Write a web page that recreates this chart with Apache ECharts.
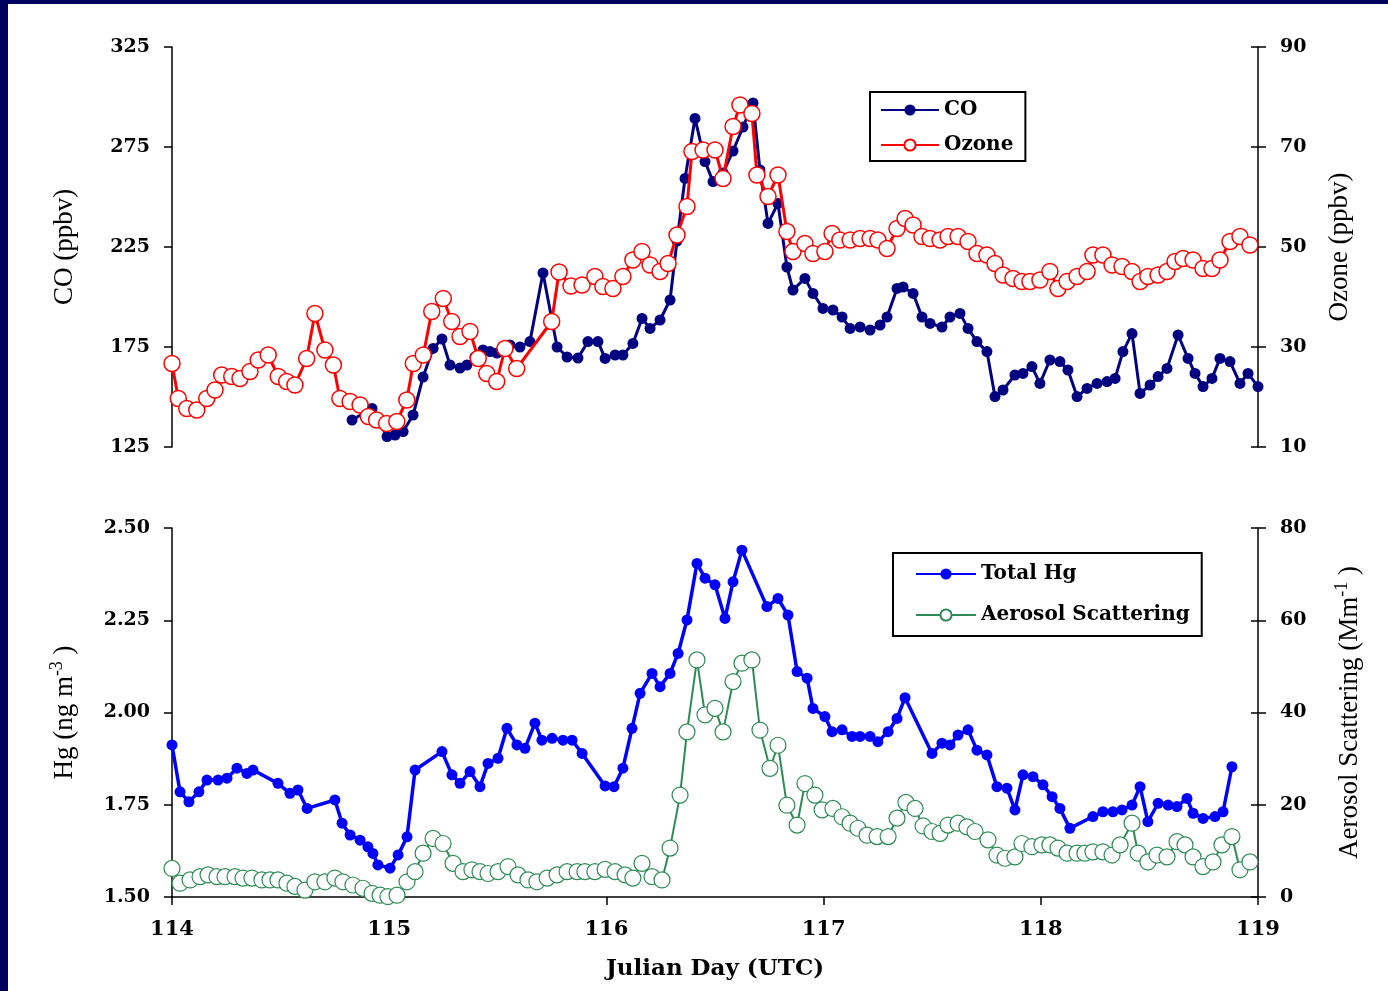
<!DOCTYPE html>
<html><head><meta charset="utf-8">
<script src="https://cdn.jsdelivr.net/npm/echarts@6/dist/echarts.min.js"></script>
<style>
html,body{margin:0;padding:0;background:#fff;}
#c{position:absolute;left:0;top:0;width:1388px;height:991px;}
#fl{position:absolute;left:0;top:0;width:8px;height:991px;background:#00005e;}
#ft{position:absolute;left:0;top:0;width:1388px;height:4px;background:#00005e;}
</style></head><body>
<div id="c"></div><div id="fl"></div><div id="ft"></div>
<script>
// ---- data (Julian day, value) ----
const coDay = [114.829,114.921,114.990,115.027,115.064,115.110,115.156,115.202,115.243,115.280,115.326,115.358,115.395,115.432,115.464,115.496,115.556,115.602,115.648,115.708,115.773,115.819,115.869,115.915,115.961,115.994,116.040,116.076,116.122,116.164,116.201,116.247,116.293,116.325,116.362,116.408,116.454,116.491,116.537,116.583,116.629,116.675,116.707,116.744,116.790,116.831,116.859,116.914,116.951,116.997,117.043,117.085,117.122,117.168,117.214,117.260,117.292,117.338,117.366,117.412,117.453,117.490,117.545,117.582,117.628,117.665,117.706,117.752,117.789,117.826,117.881,117.918,117.959,117.996,118.042,118.088,118.125,118.167,118.213,118.259,118.305,118.342,118.378,118.420,118.457,118.503,118.540,118.581,118.632,118.678,118.710,118.747,118.788,118.825,118.871,118.917,118.954,119.000];
const coVal = [138.5,144.3,130.2,131,132.7,141,160,174.3,179,166,164.5,166,170,173.5,172.7,172,176,175,177.7,212,175,170,169.5,177.7,177.7,169.3,171,171,176.8,189.3,184.3,188.5,198.5,228,259.3,289.3,267.7,257.7,262,273,285,297,263.5,236.8,246.8,215,203.5,209.3,201.8,194.3,193.5,190,184.3,185,183.5,186,190,204.3,205,201.8,190,186.8,185,190,191.8,184.3,177.7,172.7,150.2,153.5,161,161.8,165.2,156.8,168.5,167.7,163.5,150.2,154.3,156.8,157.7,159.3,172.7,181.7,151.8,156,160.2,164.3,181,169.3,161.8,155.2,159.3,169.3,167.7,156.8,161.8,155.2];

const o3Day = [114.000,114.029,114.068,114.114,114.160,114.198,114.229,114.275,114.313,114.359,114.397,114.443,114.489,114.528,114.566,114.620,114.658,114.704,114.743,114.773,114.820,114.866,114.904,114.942,114.988,115.035,115.081,115.111,115.157,115.196,115.249,115.288,115.326,115.372,115.410,115.449,115.495,115.533,115.587,115.748,115.782,115.837,115.888,115.947,115.984,116.030,116.076,116.122,116.164,116.201,116.247,116.284,116.325,116.371,116.394,116.445,116.500,116.537,116.583,116.615,116.670,116.693,116.744,116.790,116.831,116.859,116.914,116.951,117.006,117.039,117.075,117.122,117.168,117.214,117.250,117.292,117.338,117.375,117.412,117.453,117.490,117.536,117.573,117.619,117.665,117.706,117.752,117.789,117.826,117.872,117.913,117.950,117.996,118.042,118.079,118.121,118.167,118.213,118.240,118.286,118.328,118.374,118.420,118.457,118.493,118.540,118.581,118.618,118.655,118.701,118.747,118.788,118.825,118.871,118.917,118.963];
const o3Val = [26.7,19.7,17.7,17.4,19.7,21.4,24.4,24.1,23.7,25.1,27.4,28.4,24.1,23.1,22.4,27.7,36.7,29.4,26.4,19.7,19.1,18.4,16.1,15.4,14.7,15.1,19.4,26.7,28.4,37.1,39.7,35.1,32.1,33.1,27.7,24.7,23.1,29.7,25.7,35.1,45,42.2,42.4,44.1,42.1,41.7,44.1,47.4,49.1,46.4,45.1,46.7,52.4,58.1,69.1,69.4,69.4,63.7,74.1,78.4,76.7,64.4,60.1,64.4,53.1,49.1,50.7,48.7,49.1,52.7,51.4,51.4,51.7,51.7,51.4,49.7,53.7,55.7,54.4,52.1,51.7,51.4,52.1,52.1,51.1,48.7,48.4,46.7,44.4,43.7,43.1,43.1,43.4,45.1,41.7,43.1,44.1,45.1,48.4,48.4,46.4,46.1,45.1,43.1,44.1,44.4,45.1,47.1,47.7,47.4,45.7,45.7,47.4,51.1,52.1,50.4];

const hgDay = [114.000,114.037,114.078,114.124,114.161,114.212,114.253,114.299,114.345,114.373,114.488,114.543,114.580,114.622,114.750,114.783,114.820,114.866,114.902,114.925,114.948,115.004,115.041,115.082,115.119,115.243,115.289,115.326,115.372,115.418,115.455,115.501,115.542,115.588,115.625,115.671,115.703,115.750,115.800,115.842,115.888,115.994,116.035,116.076,116.118,116.155,116.210,116.247,116.293,116.330,116.371,116.417,116.454,116.500,116.546,116.583,116.624,116.739,116.790,116.836,116.878,116.924,116.951,117.006,117.039,117.085,117.131,117.168,117.214,117.250,117.297,117.338,117.375,117.499,117.545,117.582,117.619,117.665,117.706,117.752,117.798,117.844,117.881,117.918,117.964,118.010,118.052,118.088,118.134,118.240,118.286,118.332,118.374,118.420,118.457,118.493,118.540,118.586,118.627,118.673,118.701,118.747,118.802,118.839,118.880];
const hgVal = [1.912,1.785,1.758,1.785,1.817,1.817,1.822,1.849,1.835,1.844,1.808,1.781,1.790,1.740,1.763,1.700,1.668,1.654,1.636,1.618,1.587,1.578,1.614,1.663,1.844,1.894,1.831,1.808,1.840,1.799,1.862,1.876,1.957,1.912,1.903,1.971,1.925,1.930,1.925,1.925,1.889,1.801,1.799,1.849,1.957,2.052,2.106,2.070,2.106,2.160,2.251,2.404,2.364,2.346,2.255,2.354,2.440,2.287,2.309,2.264,2.111,2.093,2.011,1.989,1.948,1.953,1.935,1.935,1.935,1.921,1.948,1.984,2.040,1.889,1.917,1.912,1.939,1.953,1.898,1.885,1.799,1.795,1.736,1.831,1.826,1.804,1.772,1.740,1.686,1.718,1.731,1.731,1.736,1.749,1.799,1.704,1.754,1.749,1.745,1.767,1.727,1.713,1.718,1.731,1.853];

const aeDay = [114.000,114.037,114.083,114.129,114.166,114.207,114.244,114.290,114.327,114.368,114.414,114.451,114.488,114.529,114.566,114.612,114.658,114.704,114.750,114.787,114.833,114.879,114.921,114.958,114.994,115.036,115.082,115.119,115.156,115.202,115.248,115.294,115.340,115.381,115.418,115.455,115.501,115.547,115.593,115.639,115.680,115.727,115.773,115.819,115.865,115.901,115.947,115.994,116.040,116.086,116.122,116.164,116.210,116.256,116.293,116.339,116.371,116.417,116.454,116.500,116.537,116.583,116.624,116.670,116.707,116.753,116.790,116.831,116.878,116.914,116.960,116.993,117.043,117.085,117.122,117.158,117.200,117.246,117.297,117.338,117.379,117.421,117.458,117.499,117.536,117.573,117.619,117.660,117.697,117.757,117.798,117.835,117.881,117.913,117.959,118.005,118.042,118.079,118.121,118.167,118.203,118.240,118.286,118.328,118.365,118.420,118.448,118.493,118.535,118.581,118.627,118.664,118.701,118.747,118.793,118.834,118.880,118.917,118.963];
const aeVal = [6.2,3.0,3.7,4.4,4.8,4.4,4.4,4.4,4.1,4.1,3.7,3.7,3.7,3.0,2.3,1.5,3.3,3.3,4.1,3.3,2.6,1.9,0.8,0.4,0.1,0.4,3.3,5.5,9.5,12.7,11.6,7.3,5.5,5.9,5.5,5.1,5.5,6.6,4.8,3.7,3.3,4.1,4.8,5.5,5.5,5.5,5.5,6.0,5.5,4.8,4.1,7.3,4.4,3.7,10.6,22.1,35.8,51.4,39.5,40.9,35.8,46.7,50.7,51.4,36.2,27.9,32.9,19.9,15.6,24.6,22.1,18.9,19.2,17.4,16.0,14.9,13.4,13.1,13.1,17.1,20.5,19.2,15.4,14.2,13.8,15.6,16.0,15.2,14.2,12.4,9.1,8.4,8.7,11.6,10.9,11.3,11.3,10.6,9.5,9.5,9.5,9.8,9.8,9.1,11.3,16.0,9.5,7.6,9.1,8.7,12.0,11.3,8.7,6.6,7.6,11.3,13.1,5.9,7.6];

// ---- chart ----
const chart = echarts.init(document.getElementById('c'));
function pairs(d, v) { return d.map((x, i) => [x, v[i]]); }
const lab = {fontFamily:'DejaVu Serif', fontWeight:'bold', fontSize:19, color:'#000'};
const nameStyle = {fontFamily:'Liberation Serif', fontSize:27, color:'#000', lineHeight:34};
const axLine = {show:true, lineStyle:{color:'#000', width:1.5}};
const tick = {show:true, length:8, lineStyle:{color:'#000', width:1.5}};
const tickIn = {show:true, inside:true, length:7, lineStyle:{color:'#000', width:1.5}};
const richName = {
  a:{fontFamily:'Liberation Serif', fontSize:27, color:'#000', lineHeight:34},
  s:{fontFamily:'Liberation Serif', fontSize:18, color:'#000', lineHeight:16, verticalAlign:'top'}
};
function yAx(grid, pos, min, max, itv, name, gap, fmt, rich) {
  return {gridIndex:grid, type:'value', position:pos, min:min, max:max, interval:itv,
    axisLine:axLine, axisTick:tick, splitLine:{show:false},
    axisLabel:Object.assign({}, lab, {margin:22, formatter:fmt}),
    name:name, nameLocation:'middle', nameGap:gap, nameRotate:90,
    nameTextStyle: rich ? Object.assign({}, nameStyle, {rich:richName}) : nameStyle};
}
function yIn(grid, min, max, itv) {
  return {gridIndex:grid, type:'value', position:'right', min:min, max:max, interval:itv,
    axisLine:{show:false}, axisTick:tickIn, axisLabel:{show:false}, splitLine:{show:false}};
}
const legText = {fontFamily:'DejaVu Serif', fontWeight:'bold', fontSize:20, color:'#000'};
chart.setOption({
  animation:false,
  backgroundColor:'#fff',
  grid:[{left:172, right:130, top:47, height:400}, {left:172, right:130, top:528, height:369}],
  xAxis:[
    {gridIndex:0, type:'value', min:114, max:119, interval:1, show:false},
    {gridIndex:1, type:'value', min:114, max:119, interval:1, axisLine:axLine, axisTick:tick,
     splitLine:{show:false}, axisLabel:Object.assign({}, lab, {fontSize:21, margin:22}),
     name:'Julian Day (UTC)', nameLocation:'middle', nameGap:61,
     nameTextStyle:{fontFamily:'DejaVu Serif', fontWeight:'bold', fontSize:23, color:'#000'}}
  ],
  yAxis:[
    yAx(0, 'left', 125, 325, 50, 'CO (ppbv)', 90, v => String(v), false),
    yAx(0, 'right', 10, 90, 20, 'Ozone (ppbv)', 65, v => String(v), false),
    yAx(1, 'left', 1.5, 2.5, 0.25, '{a|Hg (ng m}{s|-3}{a| )}', 90, v => v.toFixed(2), true),
    yAx(1, 'right', 0, 80, 20, '{a|Aerosol Scattering (Mm}{s|-1}{a| )}', 75, v => String(v), true),
    yIn(0, 10, 90, 20),
    yIn(1, 0, 80, 20)
  ],
  legend:[
    {data:['CO','Ozone'], left:870, top:92, orient:'vertical', borderColor:'#000', borderWidth:2,
     padding:[8,12,6,10], itemGap:15, itemWidth:58, itemHeight:14, textStyle:legText, backgroundColor:'#fff'},
    {data:['Total Hg','Aerosol Scattering'], left:893, top:553, orient:'vertical', borderColor:'#000', borderWidth:2,
     padding:[11,12,11,22], itemGap:21, itemWidth:60, itemHeight:14, textStyle:legText, backgroundColor:'#fff'}
  ],
  series:[
    {name:'CO', type:'line', xAxisIndex:0, yAxisIndex:0, data:pairs(coDay, coVal),
     symbol:'circle', symbolSize:11, showAllSymbol:true,
     lineStyle:{color:'#000080', width:3}, itemStyle:{color:'#000080'}, z:2},
    {name:'Ozone', type:'line', xAxisIndex:0, yAxisIndex:1, data:pairs(o3Day, o3Val),
     symbol:'circle', symbolSize:16, showAllSymbol:true,
     lineStyle:{color:'#ff0000', width:3}, itemStyle:{color:'#fff', borderColor:'#ff0000', borderWidth:1.5}, z:3},
    {name:'Total Hg', type:'line', xAxisIndex:1, yAxisIndex:2, data:pairs(hgDay, hgVal),
     symbol:'circle', symbolSize:11, showAllSymbol:true,
     lineStyle:{color:'#0000ff', width:3.5}, itemStyle:{color:'#0000ff'}, z:3},
    {name:'Aerosol Scattering', type:'line', xAxisIndex:1, yAxisIndex:3, data:pairs(aeDay, aeVal),
     symbol:'circle', symbolSize:16, showAllSymbol:true,
     lineStyle:{color:'#2e8b57', width:2}, itemStyle:{color:'#fff', borderColor:'#2e8b57', borderWidth:1.2}, z:2}
  ]
});
</script>
</body></html>
